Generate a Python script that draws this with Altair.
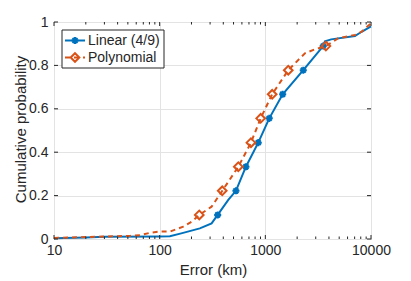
import altair as alt
import pandas as pd

# ---- data ----
series_names = ["Linear (4/9)", "Polynomial"]

lin_x = [10, 20, 30, 100, 125, 160, 240, 310, 354, 446, 527, 655, 857, 1089, 1459, 2286, 2838, 3530, 3665, 4200, 7046, 8150, 10000]
lin_y = [0.004, 0.007, 0.010, 0.012, 0.013, 0.026, 0.049, 0.072, 0.111, 0.180, 0.222, 0.333, 0.444, 0.556, 0.667, 0.778, 0.834, 0.889, 0.911, 0.920, 0.935, 0.955, 0.980]
lin_mx = [354, 527, 655, 857, 1089, 1459, 2286, 3530]
lin_my = [0.111, 0.222, 0.333, 0.444, 0.556, 0.667, 0.778, 0.889]

poly_x = [10, 20.7, 53, 66, 82, 100, 125, 167, 201, 237, 310, 391, 555, 731, 903, 1161, 1648, 2371, 2944, 3741, 4900, 7046, 8150, 10000]
poly_y = [0.005, 0.009, 0.015, 0.018, 0.029, 0.034, 0.034, 0.057, 0.080, 0.111, 0.149, 0.222, 0.333, 0.444, 0.556, 0.667, 0.778, 0.856, 0.874, 0.889, 0.925, 0.940, 0.955, 0.994]
poly_mx = [237, 391, 555, 731, 903, 1161, 1648, 3741]
poly_my = [0.111, 0.222, 0.333, 0.444, 0.556, 0.667, 0.778, 0.889]

x_major = [10, 100, 1000, 10000]
x_minor = [20, 30, 40, 50, 60, 70, 80, 90,
           200, 300, 400, 500, 600, 700, 800, 900,
           2000, 3000, 4000, 5000, 6000, 7000, 8000, 9000]
y_major = [0, 0.2, 0.4, 0.6, 0.8, 1.0]

BLUE = "#0072BD"
ORANGE = "#D95319"
INK = "#262626"
FONT = "Liberation Sans"
W, H = 317, 217

lin = pd.DataFrame({"x": lin_x, "y": lin_y})
lin_m = pd.DataFrame({"x": lin_mx, "y": lin_my})
poly = pd.DataFrame({"x": poly_x, "y": poly_y})
poly_m = pd.DataFrame({"x": poly_mx, "y": poly_my})

xscale = alt.Scale(type="log", domain=[10, 10000], nice=False)
yscale = alt.Scale(domain=[0, 1], nice=False)

X = alt.X("x:Q", scale=xscale, axis=alt.Axis(
    values=x_major, format="d", title="Error (km)", grid=True, gridColor="#e3e3e3",
    domain=False, ticks=False, labelFont=FONT, labelFontSize=14, labelColor=INK,
    labelPadding=4, labelFlush=False, titleFont=FONT, titleFontSize=15,
    titleFontWeight="normal", titleColor=INK, titleX=159, titleY=35,
    titleBaseline="alphabetic"))
Y = alt.Y("y:Q", scale=yscale, axis=alt.Axis(
    values=y_major, format="~g", title="Cumulative probability", grid=True,
    gridColor="#e3e3e3", domain=False, ticks=False, labelFont=FONT,
    labelFontSize=14, labelColor=INK, labelPadding=6, titleFont=FONT,
    titleFontSize=15, titleFontWeight="normal", titleColor=INK, titleX=-29,
    titleY=107, titleBaseline="alphabetic", titleAngle=270))

asterisk = "M-1,0L1,0M0,-1L0,1M-0.7,-0.7L0.7,0.7M-0.7,0.7L0.7,-0.7"

lin_line = alt.Chart(lin).mark_line(color=BLUE, strokeWidth=2).encode(x=X, y=Y)
lin_pts = alt.Chart(lin_m).mark_point(shape=asterisk, filled=False, color=BLUE,
                                      strokeWidth=2, size=50, opacity=1).encode(x=X, y=Y)
poly_line = alt.Chart(poly).mark_line(color=ORANGE, strokeWidth=2,
                                      strokeDash=[5, 4]).encode(x=X, y=Y)
poly_pts = alt.Chart(poly_m).mark_point(shape="diamond", filled=False, color=ORANGE,
                                        strokeWidth=2, size=75, opacity=1).encode(x=X, y=Y)

xmaj = pd.DataFrame({"x": x_major})
xmin = pd.DataFrame({"x": x_minor})
ymaj = pd.DataFrame({"y": y_major})

tick_layers = [
    alt.Chart(xmaj).mark_rule(color=INK, strokeWidth=1).encode(x=X, y=alt.value(H), y2=alt.value(H - 4)),
    alt.Chart(xmaj).mark_rule(color=INK, strokeWidth=1).encode(x=X, y=alt.value(0), y2=alt.value(4)),
    alt.Chart(xmin).mark_rule(color=INK, strokeWidth=1).encode(x=X, y=alt.value(H), y2=alt.value(H - 2.5)),
    alt.Chart(xmin).mark_rule(color=INK, strokeWidth=1).encode(x=X, y=alt.value(0), y2=alt.value(2.5)),
    alt.Chart(ymaj).mark_rule(color=INK, strokeWidth=1).encode(y=Y, x=alt.value(0), x2=alt.value(4)),
    alt.Chart(ymaj).mark_rule(color=INK, strokeWidth=1).encode(y=Y, x=alt.value(W), x2=alt.value(W - 4)),
]

one = pd.DataFrame({"a": [0]})
legend_box = alt.Chart(one).mark_rect(fill="white", stroke=INK, strokeWidth=1).encode(
    x=alt.value(8), x2=alt.value(110), y=alt.value(8), y2=alt.value(46))
leg_lin_line = alt.Chart(one).mark_rule(color=BLUE, strokeWidth=2).encode(
    x=alt.value(11), x2=alt.value(31), y=alt.value(18.5))
leg_lin_pt = alt.Chart(one).mark_point(shape=asterisk, filled=False, color=BLUE,
                                       strokeWidth=2, size=50, opacity=1).encode(
    x=alt.value(21), y=alt.value(18.5))
leg_poly_line = alt.Chart(one).mark_rule(color=ORANGE, strokeWidth=2, strokeDash=[5, 4]).encode(
    x=alt.value(11), x2=alt.value(31), y=alt.value(35.5))
leg_poly_pt = alt.Chart(one).mark_point(shape="diamond", filled=False, color=ORANGE,
                                        strokeWidth=2, size=75, opacity=1).encode(
    x=alt.value(21), y=alt.value(35.5))
leg_text1 = alt.Chart(one).mark_text(align="left", baseline="middle", font=FONT,
                                     fontSize=14, color=INK).encode(
    x=alt.value(34), y=alt.value(19), text=alt.value(series_names[0]))
leg_text2 = alt.Chart(one).mark_text(align="left", baseline="middle", font=FONT,
                                     fontSize=14, color=INK).encode(
    x=alt.value(34), y=alt.value(36), text=alt.value(series_names[1]))

chart = alt.layer(
    lin_line, lin_pts, poly_line, poly_pts, *tick_layers,
    legend_box, leg_lin_line, leg_lin_pt, leg_poly_line, leg_poly_pt, leg_text1, leg_text2
).properties(
    width=W, height=H,
    padding={"left": 46, "top": 14, "right": 32, "bottom": 42},
    autosize=alt.AutoSizeParams(type="none"),
    background="white",
).configure_view(stroke=INK, strokeWidth=1)

chart.save("out.html", embed_options={"renderer": "svg", "actions": False})
